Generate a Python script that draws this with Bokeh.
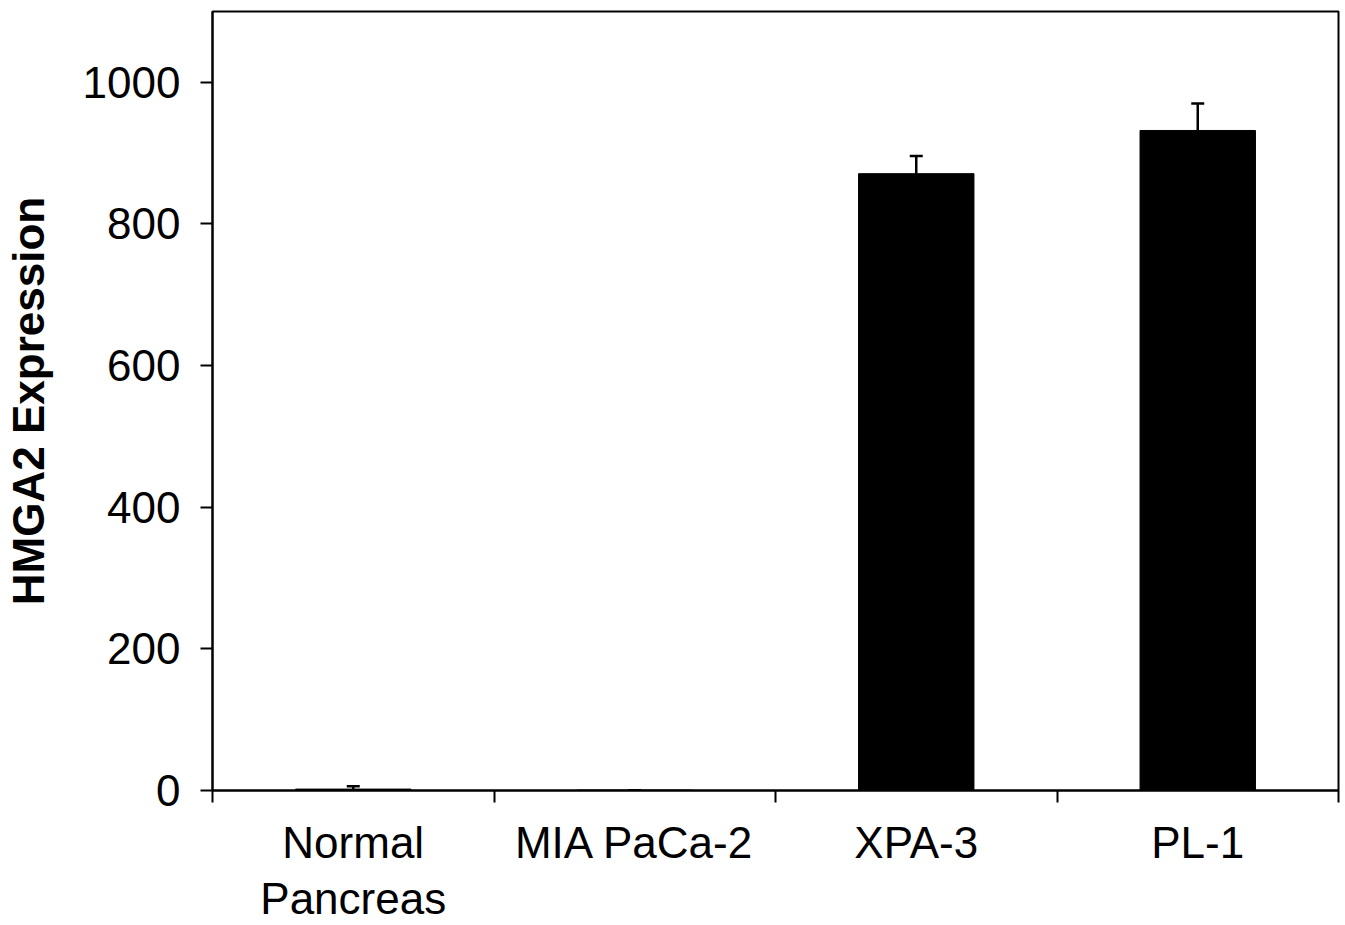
from bokeh.plotting import figure
from bokeh.models import ColumnDataSource, Range1d, FixedTicker, Whisker, TeeHead
from bokeh.embed import file_html
from bokeh.resources import INLINE

categories = ["Normal\nPancreas", "MIA PaCa-2", "XPA-3", "PL-1"]
values = [2, 0.5, 871, 932]
errors = [4, 0, 25, 38]
y_ticks = [0, 200, 400, 600, 800, 1000]

xs = [i + 0.5 for i in range(len(categories))]
src = ColumnDataSource(dict(x=xs, top=values,
                            upper=[v + e for v, e in zip(values, errors)]))

p = figure(width=1345, height=925, output_backend="svg", toolbar_location=None,
           x_range=Range1d(0, len(categories)), y_range=Range1d(0, 1100),
           min_border_left=0, min_border_right=7, min_border_top=11, min_border_bottom=134)

p.vbar(x="x", top="top", bottom=0, width=0.41, source=src,
       fill_color="black", line_color="black", line_width=1)

w = Whisker(base="x", lower="top", upper="upper", source=src,
            line_color="black", line_width=2.5,
            upper_head=TeeHead(size=13, line_color="black", line_width=2.5),
            lower_head=None)
p.add_layout(w)

p.grid.visible = False
p.outline_line_color = "black"
p.outline_line_width = 2

font = "Liberation Sans"
# y axis
ya = p.yaxis[0]
ya.ticker = FixedTicker(ticks=y_ticks, minor_ticks=[])
ya.axis_line_width = 2
ya.major_tick_line_width = 2
ya.major_tick_out = 12
ya.major_tick_in = 0
ya.major_label_standoff = 20
ya.major_label_text_font = font
ya.major_label_text_font_size = "44px"
ya.major_label_text_color = "black"
ya.axis_label = "HMGA2 Expression"
ya.axis_label_text_font = font
ya.axis_label_text_font_style = "bold"
ya.axis_label_text_font_size = "44px"
ya.axis_label_text_color = "black"
ya.axis_label_standoff = 27

# x axis: ticks at category boundaries (minor), labels at centers
xa = p.xaxis[0]
xa.ticker = FixedTicker(ticks=xs, minor_ticks=list(range(len(categories) + 1)))
xa.major_label_overrides = {x: c for x, c in zip(xs, categories)}
xa.axis_line_width = 2
xa.major_tick_line_color = None
xa.major_tick_out = 0
xa.major_tick_in = 0
xa.minor_tick_line_width = 2
xa.minor_tick_out = 12
xa.minor_tick_in = 0
xa.major_label_standoff = 15
xa.major_label_text_font = font
xa.major_label_text_font_size = "44px"
xa.major_label_text_color = "black"
xa.major_label_text_line_height = 1.15

open("out.html", "w").write(file_html(p, INLINE))
